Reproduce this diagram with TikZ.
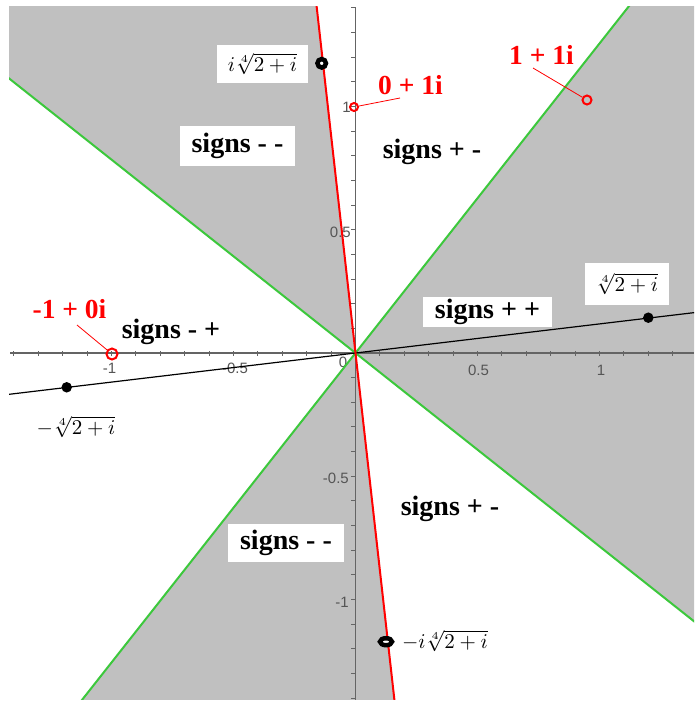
\documentclass[tikz,border=0pt]{standalone}
\usepackage{fontspec}
\newfontfamily\lserif{Liberation Serif}
\newfontfamily\lsans{Liberation Sans}
\usetikzlibrary{shapes.geometric}
\definecolor{shadegray}{RGB}{192,192,192}
\definecolor{grn}{RGB}{60,200,60}
\definecolor{axisgray}{RGB}{100,100,100}
\definecolor{ticklab}{RGB}{85,85,85}
\begin{document}
\begin{tikzpicture}[x=1pt,y=-1pt,
  signlab/.style={font=\lserif\bfseries\fontsize{28}{30}\selectfont, text=black, inner sep=0pt},
  signbox/.style={signlab, fill=white},
  redlab/.style={font=\lserif\bfseries\fontsize{27.5}{29}\selectfont, text=red, inner sep=0pt},
  ticklabel/.style={font=\lsans\fontsize{15}{17}\selectfont, text=ticklab, inner sep=0pt},
  mathlab/.style={inner sep=0pt, scale=2.1},
  whitebox/.style={fill=white, inner sep=0pt},
  axisline/.style={draw=axisgray, line width=1.3pt},
  tickline/.style={draw=axisgray, line width=1pt},
  grnline/.style={draw=grn, line width=2pt},
  redline/.style={draw=red, line width=2pt},
  blkline/.style={draw=black, line width=1.2pt},
  fdot/.style={circle, fill=black, inner sep=0pt, minimum size=10.5pt},
  ringdot/.style={circle, draw=black, fill=white, line width=4.5pt, inner sep=0pt, minimum size=8.5pt},
  ringell/.style={ellipse, draw=black, fill=white, line width=4.5pt, inner sep=0pt, minimum width=12pt, minimum height=7pt},
  rcirc/.style={circle, draw=red, line width=2pt, inner sep=0pt, minimum size=9pt},
  leader/.style={draw=red, line width=0.8pt}]
\useasboundingbox (0,0) rectangle (694,702);
\fill[white] (0,0) rectangle (694,702);
% shaded wedges
\begin{scope}
\clip (9,6) rectangle (694,699);
\begin{scope}[shift={(355.5,353)}]
\fill[shadegray] (0,0) -- (-96.4:2000) -- (-119:2000) -- (-141.6:2000) -- cycle;
\fill[shadegray] (0,0) -- (-231.75:2000) -- (-254:2000) -- (-276.4:2000) -- cycle;
\fill[shadegray] (0,0) -- (-321.6:2000) -- (-366.7:2000) -- (-411.75:2000) -- cycle;
\end{scope}
\end{scope}
% axes
\coordinate (xl) at (10,353);
\coordinate (xr) at (694,353);
\coordinate (yt) at (355.5,7);
\coordinate (yb) at (355.5,700);
\draw[axisline] (xl) -- (xr);
\draw[axisline] (yt) -- (yb);
\foreach \k in {-14,...,13} \draw[tickline] ({355.5+24.4*\k},351) -- ++(0,5);
\foreach \k in {-14,...,14} \draw[tickline] (351,{353+24.65*\k}) -- ++(4.5,0);
\node[ticklabel] (tx1) at (109.5,368) {-1};
\node[ticklabel] (tx2) at (235,368) {-0.5};
\node[ticklabel] (tx0) at (343,362) {0};
\node[ticklabel] (tx3) at (478.5,370) {0.5};
\node[ticklabel] (tx4) at (601,370) {1};
\node[ticklabel, anchor=east] (ty1) at (351,107) {1};
\node[ticklabel, anchor=east] (ty2) at (351,232) {0.5};
\node[ticklabel, anchor=east] (ty3) at (349,478) {-0.5};
\node[ticklabel, anchor=east] (ty4) at (349,602) {-1};
% lines through the origin
\begin{scope}
\clip (9,6) rectangle (694,699);
\begin{scope}[shift={(355.5,353)}]
\coordinate (ga1) at (-51.75:1200);
\coordinate (ga2) at (128.25:1200);
\coordinate (gb1) at (-141.6:1200);
\coordinate (gb2) at (38.4:1200);
\coordinate (ba1) at (-6.8:1200);
\coordinate (ba2) at (173.2:1200);
\coordinate (ra1) at (-96.4:1200);
\coordinate (ra2) at (83.6:1200);
\draw[grnline] (ga1) -- (ga2);
\draw[grnline] (gb1) -- (gb2);
\draw[blkline] (ba1) -- (ba2);
\draw[redline] (ra1) -- (ra2);
\end{scope}
\end{scope}
% sign labels
\node[signbox, minimum width=115pt, minimum height=40pt] (s1) at (237.5,146) {signs - -};
\node[signlab] (s2) at (432,152) {signs + -};
\node[signbox, minimum width=129pt, minimum height=30pt] (s3) at (487.5,312) {signs + +};
\node[signlab] (s4) at (171,332) {signs - +};
\node[signlab] (s5) at (450,509) {signs + -};
\node[signbox, minimum width=116pt, minimum height=38pt] (s6) at (286,543) {signs - -};
% root labels
\node[whitebox, minimum width=91pt, minimum height=38pt] (b1) at (262.5,64) {};
\node[whitebox, minimum width=84pt, minimum height=42pt] (b2) at (627,284) {};
\node[mathlab] (m1) at (262.5,64) {$i\sqrt[4]{2+i}$};
\node[mathlab] (m2) at (627,284) {$\sqrt[4]{2+i}$};
\node[mathlab] (m3) at (76,427) {$-\sqrt[4]{2+i}$};
\node[mathlab] (m4) at (445,641) {$-i\sqrt[4]{2+i}$};
% roots
\node[fdot] (r1) at (648.3,317.7) {};
\node[ringdot] (r2) at (321.7,63.3) {};
\node[fdot] (r3) at (66.7,387.3) {};
\node[ringell] (r4) at (386,641.7) {};
% red points and labels
\node[rcirc, minimum size=8pt] (p01) at (354,107) {};
\node[rcirc] (p11) at (587,100) {};
\node[rcirc, minimum size=11pt] (pm10) at (112,354) {};
\node[redlab] (l01) at (410.5,85) {0 + 1i};
\node[redlab] (l11) at (541.5,55) {1 + 1i};
\node[redlab] (lm10) at (69.5,309) {-1 + 0i};
\coordinate (e01) at (400,98);
\coordinate (e11) at (533,68);
\coordinate (em10) at (77,325);
\draw[leader] (p01) -- (e01);
\draw[leader] (p11) -- (e11);
\draw[leader] (pm10) -- (em10);
\end{tikzpicture}
\end{document}
